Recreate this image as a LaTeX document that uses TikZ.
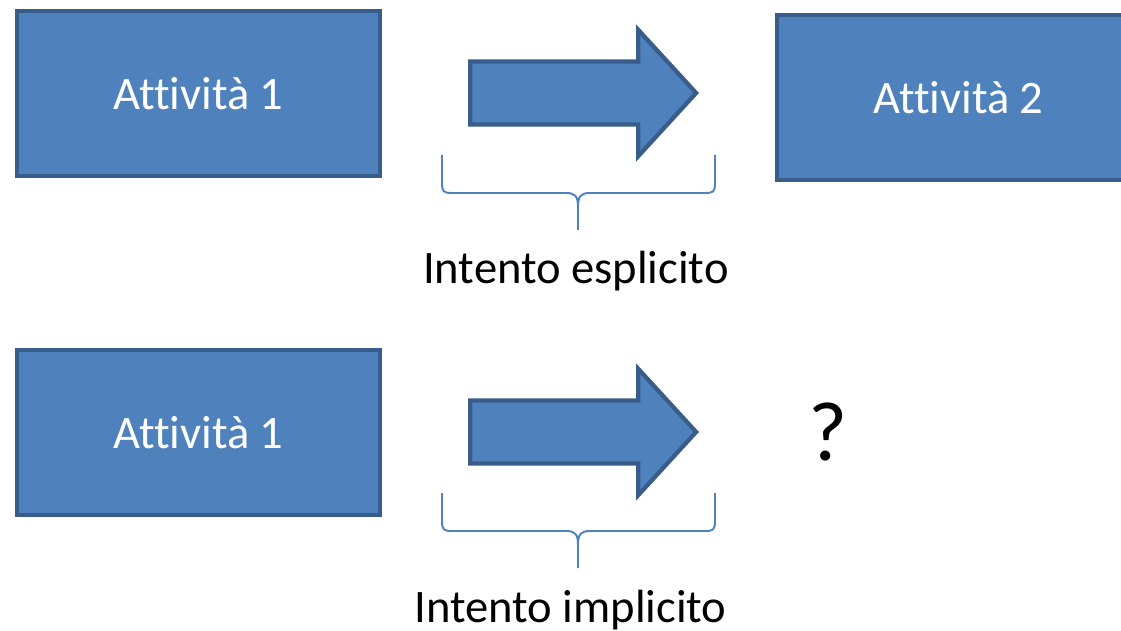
\documentclass[tikz,border=0pt]{standalone}
\usepackage{fontspec}
\setmainfont{Carlito}[Ligatures=NoCommon]
\usetikzlibrary{shapes.arrows}
\definecolor{boxfill}{HTML}{4F81BD}
\definecolor{boxedge}{HTML}{385D8A}
\colorlet{bracecol}{boxfill}

\tikzset{
  activity/.style={rectangle, draw=boxedge, line width=0.085cm, fill=boxfill,
    minimum width=7.26cm, minimum height=3.3cm, inner sep=0pt,
    text=white, font=\fontsize{26.5}{30}\selectfont},
  intentarrow/.style={single arrow, draw=boxedge, line width=0.085cm, fill=boxfill,
    minimum height=4.52cm, inner xsep=0pt, inner ysep=0.59cm, anchor=tip,
    single arrow head extend=0.63cm, single arrow tip angle=95},
  bracebar/.style={draw=bracecol, line width=1.1pt},
  intentlabel/.style={anchor=base, inner sep=0pt, font=\fontsize{26.5}{30}\selectfont}
}

\begin{document}
\begin{tikzpicture}[x=0.02cm, y=-0.02cm]
  \useasboundingbox (0,0) rectangle (1121,631);

  % explicit intent: activity -> activity
  \node[activity] (act1) at (198.5,93.5) {Attività 1};
  \node[intentarrow] (arr1) at (699,93) {};
  \node[activity] (act2) at (958.5,97.5) {Attività 2};
  \draw[bracebar] (442,155) -- (442,183) .. controls (442,192) and (444,193) .. (452,193)
    -- (566,193) .. controls (575,193) and (578,196) .. (578,207) -- (578,230);
  \draw[bracebar] (715,155) -- (715,183) .. controls (715,192) and (713,193) .. (705,193)
    -- (590,193) .. controls (581,193) and (578,196) .. (578,207);
  \node[intentlabel] (expl) at (576,283) {Intento esplicito};

  % implicit intent: target unknown
  \node[activity] (act3) at (198.5,432.5) {Attività 1};
  \node[intentarrow] (arr2) at (699,432) {};
  \node[anchor=base, inner sep=0pt, font=\fontsize{48}{52}\selectfont] (unk) at (828,460) {?};
  \draw[bracebar] (442,493) -- (442,521) .. controls (442,530) and (444,531) .. (452,531)
    -- (566,531) .. controls (575,531) and (578,534) .. (578,545) -- (578,568);
  \draw[bracebar] (715,493) -- (715,521) .. controls (715,530) and (713,531) .. (705,531)
    -- (590,531) .. controls (581,531) and (578,534) .. (578,545);
  \node[intentlabel] (impl) at (570.5,622) {Intento implicito};
\end{tikzpicture}
\end{document}
